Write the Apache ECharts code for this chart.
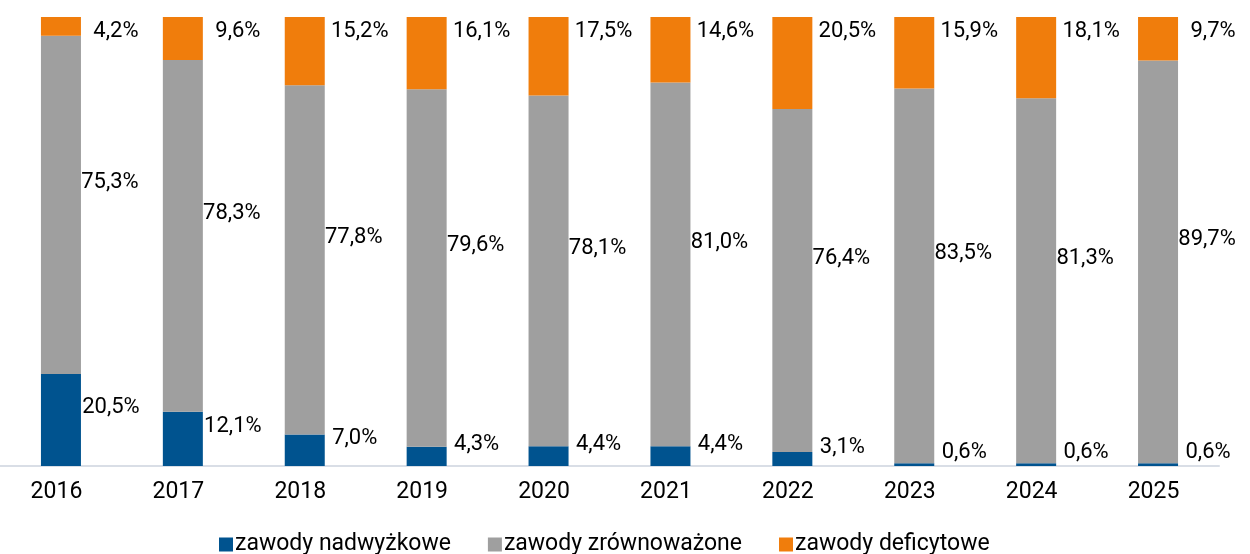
<!DOCTYPE html>
<html>
<head>
<meta charset="utf-8">
<script src="https://cdn.jsdelivr.net/npm/echarts@6/dist/echarts.min.js"></script>
<style>
  html, body { margin: 0; padding: 0; background: #fff; }
  #chart-container { width: 1250px; height: 554px; }
</style>
</head>
<body>
<div id="chart-container"></div>
<script>
var years = ['2016', '2017', '2018', '2019', '2020', '2021', '2022', '2023', '2024', '2025'];
var nadwyzkowe = [20.5, 12.1, 7.0, 4.3, 4.4, 4.4, 3.1, 0.6, 0.6, 0.6];
var zrownowazone = [75.3, 78.3, 77.8, 79.6, 78.1, 81.0, 76.4, 83.5, 81.3, 89.7];
var deficytowe = [4.2, 9.6, 15.2, 16.1, 17.5, 14.6, 20.5, 15.9, 18.1, 9.7];

var dom = document.getElementById('chart-container');
var myChart = echarts.init(dom, null, { renderer: 'canvas' });

var fontFamily = 'Roboto';
var fontSize = 22;
function pct(p) {
  return p.value.toFixed(1).replace('.', ',') + '%';
}

var option = {
  animation: false,
  color: ['#00538f', '#9f9f9f', '#f07d0c'],
  textStyle: { fontFamily: fontFamily },
  legend: {
    top: 528,
    left: 214,
    itemWidth: 14,
    itemHeight: 14,
    itemGap: 37,
    icon: 'rect',
    textStyle: { fontSize: 23, color: '#000', fontFamily: fontFamily, padding: [0, 0, 0, -3] },
    data: ['zawody nadwyżkowe', 'zawody zrównoważone', 'zawody deficytowe']
  },
  grid: { left: -2, right: 31, top: 17, bottom: 88 },
  xAxis: {
    type: 'category',
    data: years,
    axisTick: { show: false },
    axisLine: { lineStyle: { color: '#d9dee6', width: 2 } },
    axisLabel: {
      fontSize: 23,
      color: '#000',
      margin: 15,
      padding: [0, 9, 0, 0],
      fontFamily: fontFamily
    }
  },
  yAxis: {
    type: 'value',
    min: 0,
    max: 100,
    show: false
  },
  series: [
    {
      name: 'zawody nadwyżkowe',
      type: 'bar',
      stack: 'total',
      barWidth: 40,
      data: nadwyzkowe,
      label: {
        show: true,
        position: ['100%', '50%'],
        align: 'center',
        verticalAlign: 'middle',
        offset: [30, -12],
        fontSize: fontSize,
        color: '#000',
        fontFamily: fontFamily,
        formatter: pct
      }
    },
    {
      name: 'zawody zrównoważone',
      type: 'bar',
      stack: 'total',
      barWidth: 40,
      data: zrownowazone,
      label: {
        show: true,
        position: ['100%', '50%'],
        align: 'center',
        verticalAlign: 'middle',
        offset: [29, -22],
        fontSize: fontSize,
        color: '#000',
        fontFamily: fontFamily,
        formatter: pct
      }
    },
    {
      name: 'zawody deficytowe',
      type: 'bar',
      stack: 'total',
      barWidth: 40,
      data: deficytowe,
      label: {
        show: true,
        position: ['100%', 0],
        align: 'center',
        verticalAlign: 'middle',
        offset: [35, 14],
        fontSize: fontSize,
        color: '#000',
        fontFamily: fontFamily,
        formatter: pct
      }
    }
  ]
};

myChart.setOption(option);
window.addEventListener('resize', myChart.resize);
</script>
</body>
</html>
